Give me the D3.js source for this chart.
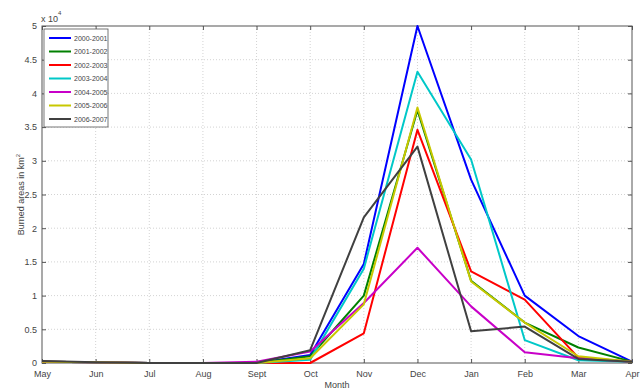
<!DOCTYPE html>
<html><head><meta charset="utf-8">
<script src="https://cdn.jsdelivr.net/npm/d3@7"></script>
<style>body{margin:0;background:#fff;} text{font-family:"Liberation Sans",Arial,sans-serif;}</style>
</head><body><svg id="c" width="643" height="390"></svg>
<script>
const months = ["May","Jun","Jul","Aug","Sept","Oct","Nov","Dec","Jan","Feb","Mar","Apr"];
const seriesNames = ["2000-2001","2001-2002","2002-2003","2003-2004","2004-2005","2005-2006","2006-2007"];
const seriesColors = ["#0000ff","#008000","#ff0000","#00c8c8","#c800c8","#c8c800","#404040"];
const yTicks = [0,0.5,1,1.5,2,2.5,3,3.5,4,4.5,5];
// values in units of 10^4 km^2
const s2000 = [0.02,0.01,0,0,0,0.12,1.47,5.0,2.72,1.0,0.40,0.02];
const s2001 = [0.02,0.01,0,0,0,0.10,1.0,3.75,1.22,0.6,0.23,0.02];
const s2002 = [0.02,0.01,0,0,0,0.0,0.44,3.46,1.36,0.94,0.08,0.02];
const s2003 = [0.02,0.01,0,0,0,0.05,1.4,4.32,3.02,0.34,0.04,0.02];
const s2004 = [0.02,0.01,0,0,0.02,0.17,0.89,1.71,0.84,0.16,0.07,0.02];
const s2005 = [0.02,0.01,0,0,0,0.07,0.87,3.79,1.21,0.6,0.1,0.02];
const s2006 = [0.03,0.01,0,0,0,0.19,2.16,3.21,0.47,0.54,0.06,0.02];
const seriesValues = [s2000,s2001,s2002,s2003,s2004,s2005,s2006];

const svg = d3.select("#c");
const L=42,R=632,T=26,B=363;
const x = d3.scalePoint().domain(months).range([L,R]);
const y = d3.scaleLinear().domain([0,5]).range([B,T]);
const txt="#444";

// grid
const g = svg.append("g");
g.selectAll("line.gx").data(months.slice(1,-1)).enter().append("line")
 .attr("x1",d=>x(d)).attr("x2",d=>x(d)).attr("y1",T).attr("y2",B)
 .attr("stroke","#c8c8c8").attr("stroke-width",0.8).attr("stroke-dasharray","1,2");
g.selectAll("line.gy").data(yTicks.slice(1,-1)).enter().append("line")
 .attr("y1",d=>y(d)).attr("y2",d=>y(d)).attr("x1",L).attr("x2",R)
 .attr("stroke","#c8c8c8").attr("stroke-width",0.8).attr("stroke-dasharray","1,2");

// axes (ticks inward)
const ax = d3.axisBottom(x).tickSizeInner(-4).tickSizeOuter(0).tickPadding(6);
const axB = svg.append("g").attr("transform",`translate(0,${B})`).call(ax);
const axT = svg.append("g").attr("transform",`translate(0,${T})`).call(d3.axisTop(x).tickSizeInner(-4).tickSizeOuter(0).tickFormat(""));
const ay = d3.axisLeft(y).tickValues(yTicks).tickFormat(d=>d3.format("")(d)).tickSizeInner(-4).tickSizeOuter(0).tickPadding(5);
const axL = svg.append("g").attr("transform",`translate(${L},0)`).call(ay);
const axR = svg.append("g").attr("transform",`translate(${R},0)`).call(d3.axisRight(y).tickValues(yTicks).tickSizeInner(-4).tickSizeOuter(0).tickFormat(""));
[axB,axT,axL,axR].forEach(a=>{a.select(".domain").remove();a.selectAll("line").attr("stroke","#555");a.selectAll("text").attr("fill",txt).style("font-size","9px");});
axB.selectAll("text").attr("dy","0.9em");

// box
svg.append("rect").attr("x",L).attr("y",T).attr("width",R-L).attr("height",B-T)
 .attr("fill","none").attr("stroke","#555").attr("stroke-width",1);

// lines
const line = d3.line().x((d,i)=>x(months[i])).y(d=>y(d));
seriesValues.forEach((vals,k)=>{
 svg.append("path").datum(vals).attr("d",line).attr("fill","none")
  .attr("stroke",seriesColors[k]).attr("stroke-width",2).attr("stroke-linejoin","round");
});

// x10^4
const ex = svg.append("text").attr("x",L-1).attr("y",T-4).attr("fill",txt).style("font-size","9px");
ex.append("tspan").text("x 10");
ex.append("tspan").attr("dy",-7).style("font-size","6px").text("4");

// labels
svg.append("text").attr("x",(L+R)/2).attr("y",388).attr("text-anchor","middle").attr("fill",txt).style("font-size","9px").text("Month");
const yl = svg.append("text").attr("transform",`translate(24,${(T+B)/2}) rotate(-90)`).attr("text-anchor","middle").attr("fill",txt).style("font-size","9px");
yl.append("tspan").text("Burned areas in km");
yl.append("tspan").attr("dy",-4).style("font-size","6px").text("2");

// legend
const lg = svg.append("g");
lg.append("rect").attr("x",44).attr("y",29).attr("width",64).attr("height",98).attr("fill","#fff").attr("stroke","#555").attr("stroke-width",0.8);
seriesNames.forEach((n,i)=>{
 const yy = 38 + i*13.5;
 lg.append("line").attr("x1",49).attr("x2",71).attr("y1",yy).attr("y2",yy).attr("stroke",seriesColors[i]).attr("stroke-width",2);
 lg.append("text").attr("x",74).attr("y",yy+2.5).attr("fill",txt).style("font-size","7px").text(n);
});
</script></body></html>
